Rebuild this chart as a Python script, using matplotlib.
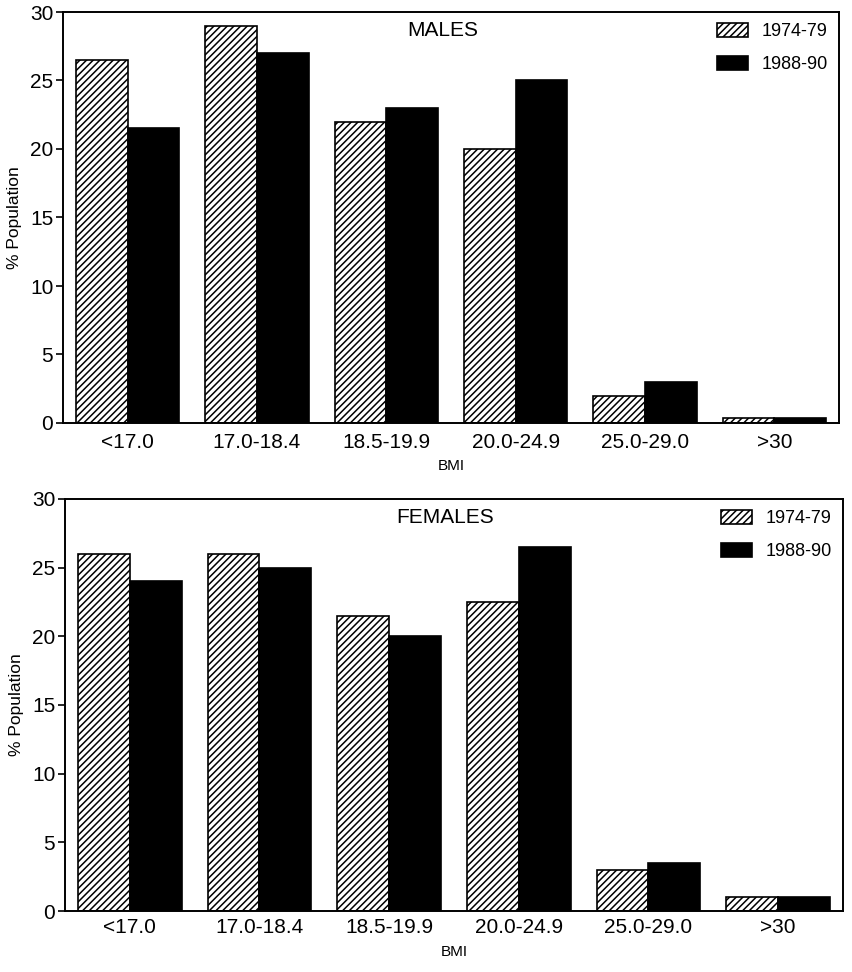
import matplotlib as plt
from matplotlib import pyplot
plt.use('Agg')
import numpy as np

categories = ['<17.0', '17.0-18.4', '18.5-19.9', '20.0-24.9', '25.0-29.0', '>30']
series_names = ['1974-79', '1988-90']
males_7479 = [26.5, 29.0, 22.0, 20.0, 2.0, 0.4]
males_8890 = [21.5, 27.0, 23.0, 25.0, 3.0, 0.4]
females_7479 = [26.0, 26.0, 21.5, 22.5, 3.0, 1.0]
females_8890 = [24.0, 25.0, 20.0, 26.5, 3.5, 1.0]
y_ticks = [0, 5, 10, 15, 20, 25, 30]

plt.rcParams['font.family'] = ['Liberation Sans', 'DejaVu Sans']
plt.rcParams['hatch.linewidth'] = 1.1

fig = pyplot.figure(figsize=(8.53, 9.72), dpi=100)
W, H = 853, 972
# title, data, axes box in pixels (left, top, right, bottom), tick pad, label pad
panels = [
    ('MALES', males_7479, males_8890, (63, 12, 839, 423), 7, 5),
    ('FEMALES', females_7479, females_8890, (65, 499, 843, 911), 5, 6),
]

x = np.arange(len(categories))
bw = 0.40
for title, a, b, (l, t, r, btm), tpad, lpad in panels:
    ax = fig.add_axes([l / W, 1 - btm / H, (r - l) / W, (btm - t) / H])
    ax.bar(x - bw / 2, a, bw, facecolor='white', edgecolor='black',
           hatch='/////', linewidth=1.2, label=series_names[0])
    ax.bar(x + bw / 2, b, bw, color='black', edgecolor='black',
           linewidth=1.2, label=series_names[1])
    ax.set_xlim(-0.5, len(categories) - 0.5)
    ax.set_ylim(0, 30)
    ax.set_yticks(y_ticks)
    ax.set_xticks(x)
    ax.set_xticklabels(categories, fontsize=15)
    ax.tick_params(axis='x', length=0, pad=tpad)
    ax.tick_params(axis='y', labelsize=15, direction='out', length=5, width=1.2, pad=2)
    for s in ax.spines.values():
        s.set_linewidth(1.4)
    ax.set_ylabel('% Population', fontsize=12.5, labelpad=6)
    ax.set_xlabel('BMI', fontsize=11, labelpad=lpad)
    ax.text(0.489, 0.956, title, transform=ax.transAxes, fontsize=15,
            ha='center', va='center')
    ax.legend(loc='upper right', frameon=False, fontsize=13,
              handlelength=1.75, handleheight=0.8, handletextpad=0.75,
              labelspacing=0.9, borderaxespad=0.3, borderpad=0.3)

fig.savefig('out.png', dpi=100)
